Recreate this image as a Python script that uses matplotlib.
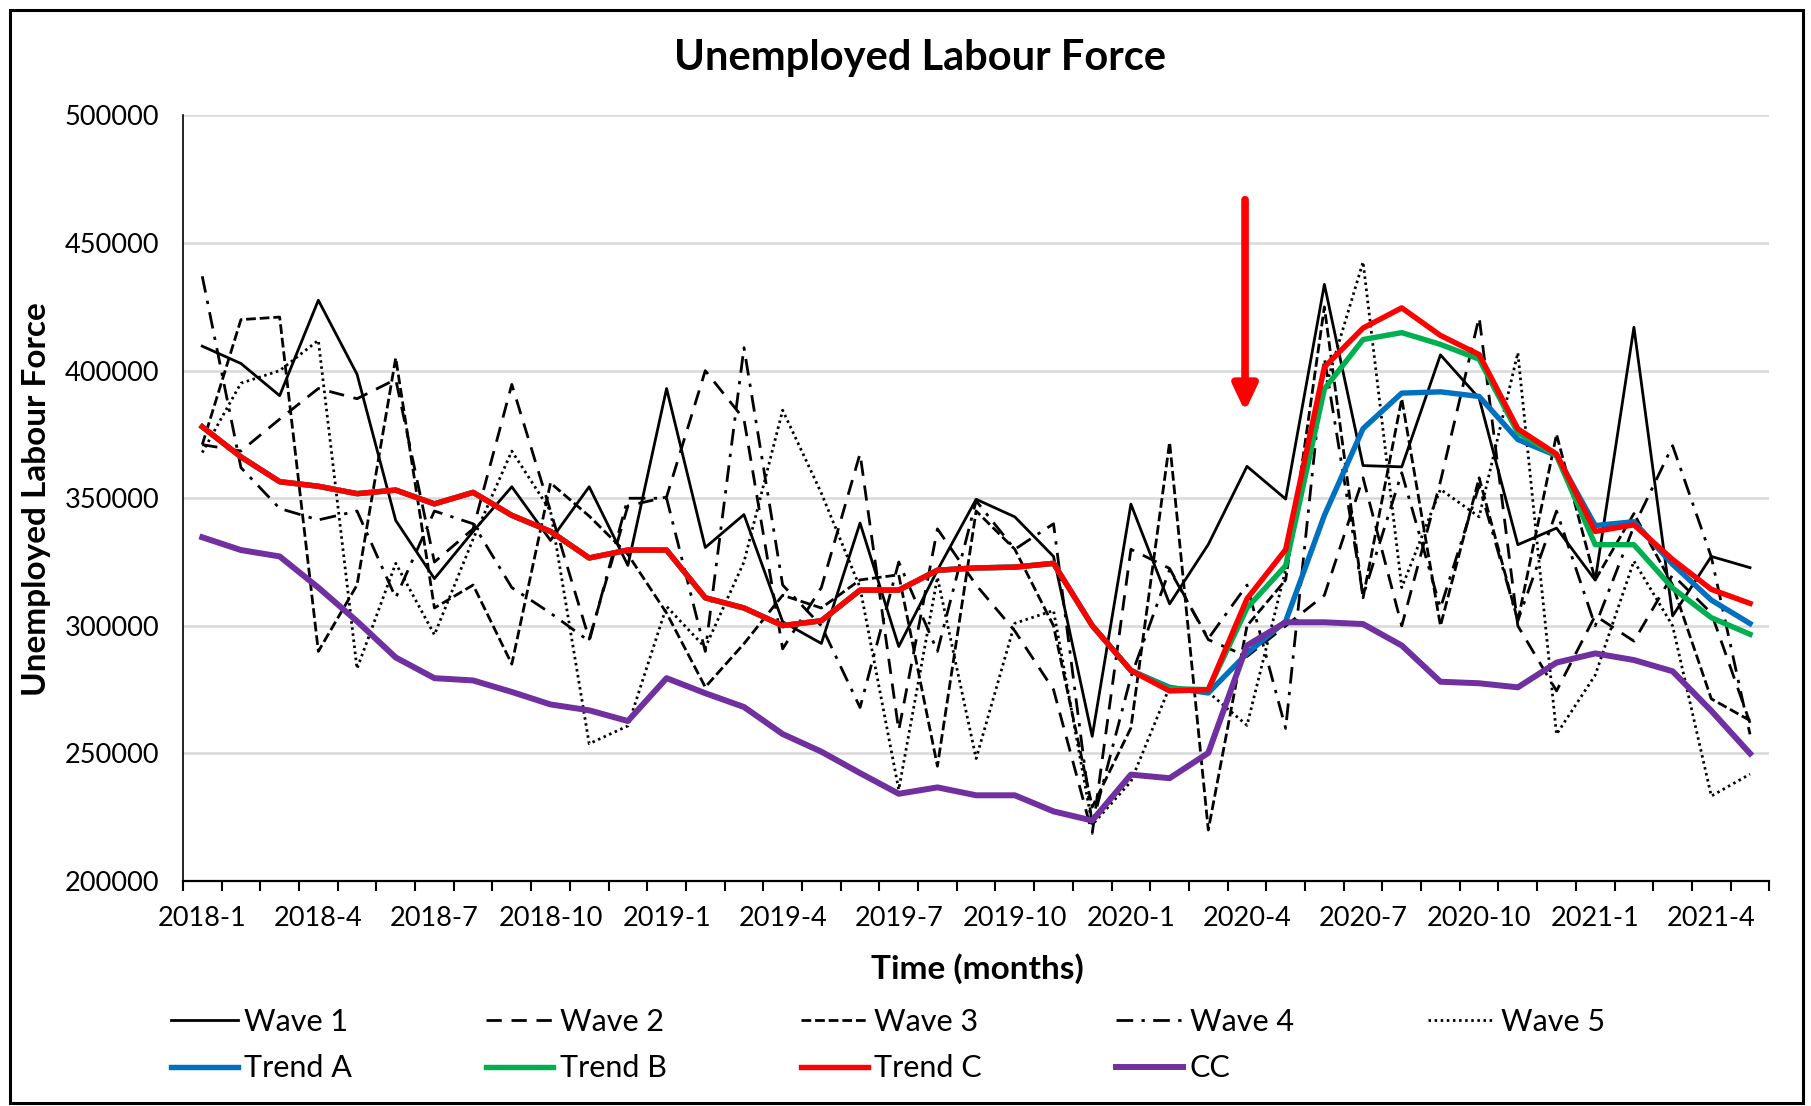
import numpy as np
import matplotlib.pyplot as plt
from matplotlib.patches import Rectangle

plt.rcParams['font.family'] = ['Lato', 'DejaVu Sans']

# monthly series, 2018-1 .. 2021-5 (values in thousands)
wave1 = [409.6, 402.8, 390.2, 427.6, 398.6, 341.3, 318.5, 337.0, 354.5, 333.5, 354.5,
         323.7, 393.0, 330.7, 343.6, 301.6, 293.1, 340.3, 291.9, 321.8, 349.6, 342.7,
         327.2, 256.7, 347.7, 308.6, 331.9, 362.5, 349.7, 433.8, 362.8, 362.3, 406.2,
         389.2, 331.8, 338.3, 317.9, 417.0, 303.9, 327.2, 322.8]
wave2 = [371.0, 368.5, 381.0, 393.0, 389.0, 396.6, 325.0, 338.0, 394.6, 345.0, 294.8,
         347.0, 350.5, 400.0, 381.0, 291.0, 315.0, 367.5, 259.0, 338.0, 316.0, 298.0,
         275.0, 218.7, 330.0, 322.5, 294.6, 288.0, 300.0, 312.0, 358.0, 300.0, 356.6,
         421.0, 300.0, 274.5, 304.0, 294.0, 320.0, 305.0, 262.0]
wave3 = [371.0, 420.0, 421.0, 290.0, 316.0, 405.0, 307.0, 316.0, 285.0, 356.0, 343.0,
         328.0, 305.0, 276.0, 293.0, 312.0, 307.0, 318.0, 320.0, 245.0, 345.0, 330.0,
         300.0, 229.0, 260.0, 372.0, 220.0, 300.0, 318.0, 425.0, 311.0, 389.0, 300.0,
         358.0, 302.0, 375.0, 318.0, 344.0, 316.0, 271.4, 262.9]
wave4 = [437.0, 362.0, 346.0, 341.5, 345.0, 311.0, 345.0, 340.0, 315.0, 305.0, 294.0,
         350.0, 350.0, 290.0, 409.0, 316.0, 300.0, 268.0, 325.0, 290.0, 349.0, 330.0,
         340.0, 222.0, 280.0, 322.0, 295.0, 316.0, 259.8, 405.0, 311.7, 360.0, 307.0,
         355.0, 302.0, 345.0, 300.0, 339.0, 370.6, 327.0, 257.5]
wave5 = [367.9, 395.1, 400.0, 411.9, 283.2, 324.5, 296.5, 334.0, 368.5, 345.0, 253.8,
         260.8, 307.6, 291.5, 325.0, 384.5, 352.0, 315.0, 235.8, 319.0, 248.0, 301.0,
         306.0, 222.0, 239.0, 276.0, 274.0, 261.0, 322.0, 392.0, 442.6, 315.0, 353.5,
         342.7, 407.0, 257.5, 280.7, 325.4, 300.0, 233.3, 241.9]
trend_a = [378.0, 366.2, 356.5, 354.7, 351.8, 353.2, 347.8, 352.3, 343.3, 337.0, 326.6,
           329.7, 329.7, 311.0, 307.0, 300.1, 302.0, 314.0, 314.0, 321.8, 322.7, 323.0,
           324.5, 300.1, 282.5, 275.9, 273.7, 289.2, 301.8, 343.3, 377.3, 391.2, 391.7,
           389.9, 373.0, 366.7, 339.3, 340.8, 324.1, 310.1, 300.9]
trend_b = [378.0, 366.2, 356.5, 354.7, 351.8, 353.2, 347.8, 352.3, 343.3, 337.0, 326.6,
           329.7, 329.7, 311.0, 307.0, 300.1, 302.0, 314.0, 314.0, 321.8, 322.7, 323.0,
           324.5, 300.1, 282.5, 275.4, 275.0, 307.0, 323.6, 392.8, 412.2, 414.9, 410.3,
           404.5, 375.7, 366.7, 331.8, 331.8, 314.8, 303.2, 296.7]
trend_c = [378.0, 366.2, 356.5, 354.7, 351.8, 353.2, 347.8, 352.3, 343.3, 337.0, 326.6,
           329.7, 329.7, 311.0, 307.0, 300.1, 302.0, 314.0, 314.0, 321.8, 322.7, 323.0,
           324.5, 300.1, 282.5, 274.5, 275.0, 310.6, 329.9, 401.4, 416.7, 424.6, 413.8,
           406.3, 377.2, 367.3, 337.0, 339.6, 326.0, 314.3, 308.8]
cc = [334.7, 329.7, 327.2, 315.0, 301.8, 287.6, 279.5, 278.6, 274.1, 269.2, 266.9,
      262.7, 279.5, 273.6, 268.2, 257.6, 250.7, 242.3, 234.2, 236.7, 233.6, 233.6,
      227.3, 223.7, 241.7, 240.3, 250.2, 292.3, 301.4, 301.4, 300.7, 292.3, 278.1,
      277.5, 275.9, 285.6, 289.2, 286.6, 282.2, 266.7, 250.0]

tick_labels = ['2018-1', '2018-4', '2018-7', '2018-10', '2019-1', '2019-4', '2019-7',
               '2019-10', '2020-1', '2020-4', '2020-7', '2020-10', '2021-1', '2021-4']
arrow_month = 27  # 2020-4

x = np.arange(len(wave1))

fig = plt.figure(figsize=(18.11, 11.06), dpi=100)
ax = fig.add_axes([0.101, 0.2034, 0.876, 0.6922])

lw = 2.0
ax.plot(x, np.array(wave1) * 1000, color='black', lw=lw, label='Wave 1')
ax.plot(x, np.array(wave2) * 1000, color='black', lw=lw, dashes=(5.5, 3.5), label='Wave 2')
ax.plot(x, np.array(wave3) * 1000, color='black', lw=lw, dashes=(3.5, 1.4), label='Wave 3')
ax.plot(x, np.array(wave4) * 1000, color='black', lw=lw, dashes=(6, 3, 1.2, 3), label='Wave 4')
ax.plot(x, np.array(wave5) * 1000, color='black', lw=lw, dashes=(0.9, 1.3), label='Wave 5')
ax.plot(x, np.array(trend_a) * 1000, color='#0070C0', lw=3.9, label='Trend A')
ax.plot(x, np.array(trend_b) * 1000, color='#00B050', lw=3.9, label='Trend B')
ax.plot(x, np.array(trend_c) * 1000, color='#FF0000', lw=3.9, label='Trend C')
ax.plot(x, np.array(cc) * 1000, color='#7030A0', lw=4.3, label='CC')

# red arrow marking 2020-4
ax.annotate('', xy=(arrow_month - 0.05, 384000), xytext=(arrow_month - 0.05, 467000),
            arrowprops=dict(arrowstyle='-|>,head_length=0.55,head_width=0.26',
                            color='#FF0000', lw=5.5, mutation_scale=28,
                            shrinkA=0, shrinkB=0))

ax.set_xlim(-0.5, len(wave1) - 0.5)
ax.set_ylim(200000, 500000)
ax.set_yticks(np.arange(200000, 500001, 50000))
ax.set_xticks(np.arange(0, len(wave1), 3))
ax.set_xticklabels(tick_labels)
ax.set_xticks(np.arange(-0.5, len(wave1), 1), minor=True)
ax.tick_params(axis='x', which='major', length=0, pad=18, labelsize=19.5)
ax.tick_params(axis='x', which='minor', length=7, width=1.5, direction='out')
ax.tick_params(axis='y', length=0, pad=17, labelsize=19.5)

ax.grid(axis='y', color='#D9D9D9', lw=1.8)
ax.set_axisbelow(True)
for s in ['top', 'right']:
    ax.spines[s].set_visible(False)
ax.spines['left'].set_linewidth(1.2)
ax.spines['bottom'].set_linewidth(1.6)

fig.text(0.508, 0.9476, 'Unemployed Labour Force', ha='center', va='center',
         fontsize=30, fontweight='bold')
fig.text(0.5396, 0.124, 'Time (months)', ha='center', va='center',
         fontsize=24, fontweight='bold')
fig.text(0.0204, 0.549, 'Unemployed Labour Force', ha='center', va='center',
         rotation=90, fontsize=24, fontweight='bold')

h, l = ax.get_legend_handles_labels()
order = [0, 5, 1, 6, 2, 7, 3, 8, 4]
fig.legend([h[i] for i in order], [l[i] for i in order], ncol=5,
           loc='center left', bbox_to_anchor=(0.079, 0.055), frameon=False,
           fontsize=22, handlelength=2.2, handletextpad=0.2,
           columnspacing=4.4, labelspacing=0.6)

fig.patches.append(Rectangle((0.0055, 0.003), 0.99, 0.988, transform=fig.transFigure,
                             fill=False, edgecolor='black', lw=2.2))

fig.savefig('out.png', dpi=100)
